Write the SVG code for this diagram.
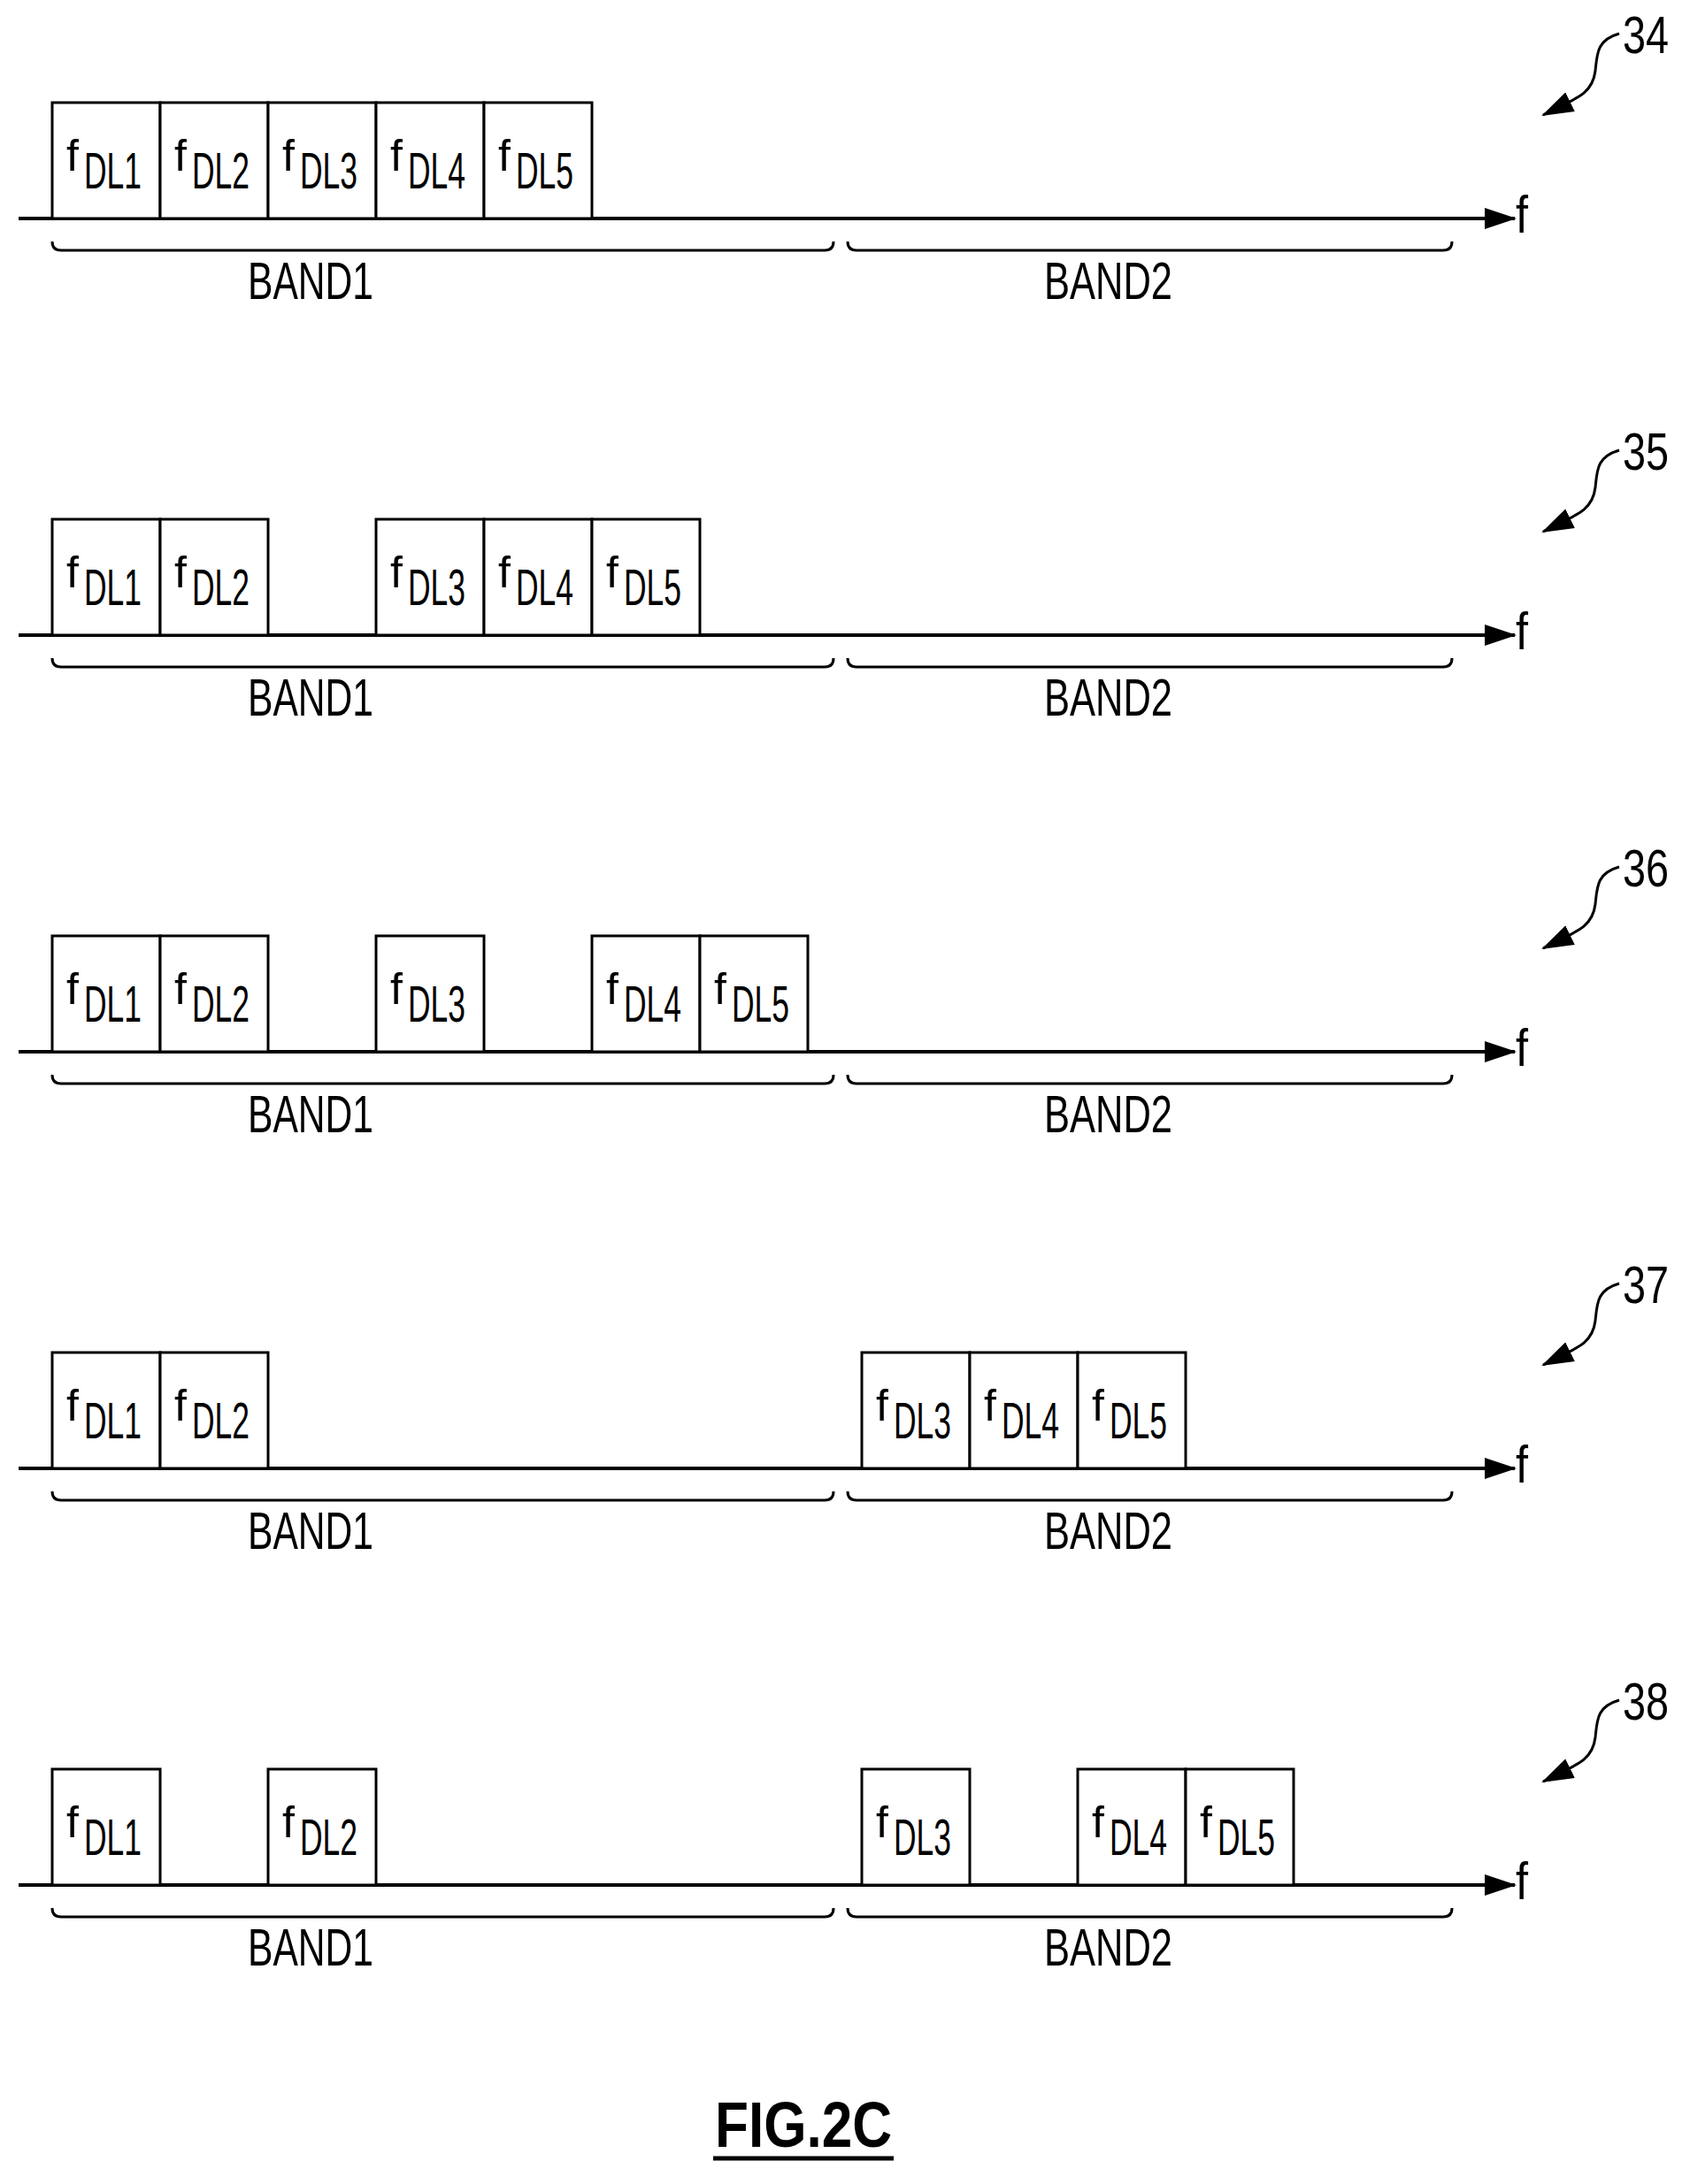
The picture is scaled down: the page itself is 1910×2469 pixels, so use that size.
<svg xmlns="http://www.w3.org/2000/svg" width="1910" height="2469" viewBox="0 0 1910 2469">
<style>
.b{fill:#fff;stroke:#000;stroke-width:3}
.ax{stroke:#000;stroke-width:4;fill:none}
.br{stroke:#000;stroke-width:3;fill:none}
.t{font-family:"Liberation Sans",Arial,sans-serif;fill:#000}
.f{font-size:50px}
.s{font-size:58px}
.bd{font-size:60px}
</style>
<defs>
<marker id="ah" markerWidth="12" markerHeight="8" refX="11" refY="4" orient="auto" markerUnits="userSpaceOnUse" viewBox="0 0 12 8"><path d="M0,0 L12,4 L0,8 Z" fill="#000"/></marker>
<marker id="ah2" markerWidth="36" markerHeight="24" refX="34" refY="12" orient="auto" markerUnits="userSpaceOnUse" viewBox="0 0 36 24"><path d="M0,0 L36,12 L0,24 Z" fill="#000"/></marker>
</defs>
<g id="connectors">
<path class="ax" d="M21,247 H1712" marker-end="url(#ah2)"/>
<path class="ax" d="M21,718 H1712" marker-end="url(#ah2)"/>
<path class="ax" d="M21,1189 H1712" marker-end="url(#ah2)"/>
<path class="ax" d="M21,1660 H1712" marker-end="url(#ah2)"/>
<path class="ax" d="M21,2131 H1712" marker-end="url(#ah2)"/>
<path class="br" d="M59,273 q0,10 10,10 H932 q10,0 10,-10 M958,273 q0,10 10,10 H1631 q10,0 10,-10"/>
<path class="br" d="M59,744 q0,10 10,10 H932 q10,0 10,-10 M958,744 q0,10 10,10 H1631 q10,0 10,-10"/>
<path class="br" d="M59,1215 q0,10 10,10 H932 q10,0 10,-10 M958,1215 q0,10 10,10 H1631 q10,0 10,-10"/>
<path class="br" d="M59,1686 q0,10 10,10 H932 q10,0 10,-10 M958,1686 q0,10 10,10 H1631 q10,0 10,-10"/>
<path class="br" d="M59,2157 q0,10 10,10 H932 q10,0 10,-10 M958,2157 q0,10 10,10 H1631 q10,0 10,-10"/>
<path class="br" d="M1830,38 C1805,45 1805,60 1803,80 C1800,105 1785,110 1744,130" marker-end="url(#ah2)"/>
<path class="br" d="M1830,509 C1805,516 1805,531 1803,551 C1800,576 1785,581 1744,601" marker-end="url(#ah2)"/>
<path class="br" d="M1830,980 C1805,987 1805,1002 1803,1022 C1800,1047 1785,1052 1744,1072" marker-end="url(#ah2)"/>
<path class="br" d="M1830,1451 C1805,1458 1805,1473 1803,1493 C1800,1518 1785,1523 1744,1543" marker-end="url(#ah2)"/>
<path class="br" d="M1830,1922 C1805,1929 1805,1944 1803,1964 C1800,1989 1785,1994 1744,2014" marker-end="url(#ah2)"/>
</g>
<g id="labels" class="t">
<g class="bd">
<text x="280" y="338" textLength="142" lengthAdjust="spacingAndGlyphs">BAND1</text>
<text x="1180" y="338" textLength="145" lengthAdjust="spacingAndGlyphs">BAND2</text>
<text x="280" y="809" textLength="142" lengthAdjust="spacingAndGlyphs">BAND1</text>
<text x="1180" y="809" textLength="145" lengthAdjust="spacingAndGlyphs">BAND2</text>
<text x="280" y="1280" textLength="142" lengthAdjust="spacingAndGlyphs">BAND1</text>
<text x="1180" y="1280" textLength="145" lengthAdjust="spacingAndGlyphs">BAND2</text>
<text x="280" y="1751" textLength="142" lengthAdjust="spacingAndGlyphs">BAND1</text>
<text x="1180" y="1751" textLength="145" lengthAdjust="spacingAndGlyphs">BAND2</text>
<text x="280" y="2222" textLength="142" lengthAdjust="spacingAndGlyphs">BAND1</text>
<text x="1180" y="2222" textLength="145" lengthAdjust="spacingAndGlyphs">BAND2</text>
<text x="1713" y="263" textLength="14" lengthAdjust="spacingAndGlyphs">f</text>
<text x="1713" y="734" textLength="14" lengthAdjust="spacingAndGlyphs">f</text>
<text x="1713" y="1205" textLength="14" lengthAdjust="spacingAndGlyphs">f</text>
<text x="1713" y="1676" textLength="14" lengthAdjust="spacingAndGlyphs">f</text>
<text x="1713" y="2147" textLength="14" lengthAdjust="spacingAndGlyphs">f</text>
<text x="1834" y="60" textLength="52" lengthAdjust="spacingAndGlyphs">34</text>
<text x="1834" y="531" textLength="52" lengthAdjust="spacingAndGlyphs">35</text>
<text x="1834" y="1002" textLength="52" lengthAdjust="spacingAndGlyphs">36</text>
<text x="1834" y="1473" textLength="52" lengthAdjust="spacingAndGlyphs">37</text>
<text x="1834" y="1944" textLength="52" lengthAdjust="spacingAndGlyphs">38</text>
</g>
<text x="808" y="2427" font-size="72" font-weight="bold" textLength="200" lengthAdjust="spacingAndGlyphs">FIG.2C</text>
<line x1="806" y1="2440" x2="1010" y2="2440" stroke="#000" stroke-width="5"/>
</g>
<g id="row34">
<g id="r34b1"><rect class="b" x="59" y="116" width="122" height="131"/><text class="t f" x="75" y="193">f</text><text class="t s" x="95" y="213" textLength="65" lengthAdjust="spacingAndGlyphs">DL1</text></g>
<g id="r34b2"><rect class="b" x="181" y="116" width="122" height="131"/><text class="t f" x="197" y="193">f</text><text class="t s" x="217" y="213" textLength="65" lengthAdjust="spacingAndGlyphs">DL2</text></g>
<g id="r34b3"><rect class="b" x="303" y="116" width="122" height="131"/><text class="t f" x="319" y="193">f</text><text class="t s" x="339" y="213" textLength="65" lengthAdjust="spacingAndGlyphs">DL3</text></g>
<g id="r34b4"><rect class="b" x="425" y="116" width="122" height="131"/><text class="t f" x="441" y="193">f</text><text class="t s" x="461" y="213" textLength="65" lengthAdjust="spacingAndGlyphs">DL4</text></g>
<g id="r34b5"><rect class="b" x="547" y="116" width="122" height="131"/><text class="t f" x="563" y="193">f</text><text class="t s" x="583" y="213" textLength="65" lengthAdjust="spacingAndGlyphs">DL5</text></g>
</g>
<g id="row35">
<g id="r35b1"><rect class="b" x="59" y="587" width="122" height="131"/><text class="t f" x="75" y="664">f</text><text class="t s" x="95" y="684" textLength="65" lengthAdjust="spacingAndGlyphs">DL1</text></g>
<g id="r35b2"><rect class="b" x="181" y="587" width="122" height="131"/><text class="t f" x="197" y="664">f</text><text class="t s" x="217" y="684" textLength="65" lengthAdjust="spacingAndGlyphs">DL2</text></g>
<g id="r35b3"><rect class="b" x="425" y="587" width="122" height="131"/><text class="t f" x="441" y="664">f</text><text class="t s" x="461" y="684" textLength="65" lengthAdjust="spacingAndGlyphs">DL3</text></g>
<g id="r35b4"><rect class="b" x="547" y="587" width="122" height="131"/><text class="t f" x="563" y="664">f</text><text class="t s" x="583" y="684" textLength="65" lengthAdjust="spacingAndGlyphs">DL4</text></g>
<g id="r35b5"><rect class="b" x="669" y="587" width="122" height="131"/><text class="t f" x="685" y="664">f</text><text class="t s" x="705" y="684" textLength="65" lengthAdjust="spacingAndGlyphs">DL5</text></g>
</g>
<g id="row36">
<g id="r36b1"><rect class="b" x="59" y="1058" width="122" height="131"/><text class="t f" x="75" y="1135">f</text><text class="t s" x="95" y="1155" textLength="65" lengthAdjust="spacingAndGlyphs">DL1</text></g>
<g id="r36b2"><rect class="b" x="181" y="1058" width="122" height="131"/><text class="t f" x="197" y="1135">f</text><text class="t s" x="217" y="1155" textLength="65" lengthAdjust="spacingAndGlyphs">DL2</text></g>
<g id="r36b3"><rect class="b" x="425" y="1058" width="122" height="131"/><text class="t f" x="441" y="1135">f</text><text class="t s" x="461" y="1155" textLength="65" lengthAdjust="spacingAndGlyphs">DL3</text></g>
<g id="r36b4"><rect class="b" x="669" y="1058" width="122" height="131"/><text class="t f" x="685" y="1135">f</text><text class="t s" x="705" y="1155" textLength="65" lengthAdjust="spacingAndGlyphs">DL4</text></g>
<g id="r36b5"><rect class="b" x="791" y="1058" width="122" height="131"/><text class="t f" x="807" y="1135">f</text><text class="t s" x="827" y="1155" textLength="65" lengthAdjust="spacingAndGlyphs">DL5</text></g>
</g>
<g id="row37">
<g id="r37b1"><rect class="b" x="59" y="1529" width="122" height="131"/><text class="t f" x="75" y="1606">f</text><text class="t s" x="95" y="1626" textLength="65" lengthAdjust="spacingAndGlyphs">DL1</text></g>
<g id="r37b2"><rect class="b" x="181" y="1529" width="122" height="131"/><text class="t f" x="197" y="1606">f</text><text class="t s" x="217" y="1626" textLength="65" lengthAdjust="spacingAndGlyphs">DL2</text></g>
<g id="r37b3"><rect class="b" x="974" y="1529" width="122" height="131"/><text class="t f" x="990" y="1606">f</text><text class="t s" x="1010" y="1626" textLength="65" lengthAdjust="spacingAndGlyphs">DL3</text></g>
<g id="r37b4"><rect class="b" x="1096" y="1529" width="122" height="131"/><text class="t f" x="1112" y="1606">f</text><text class="t s" x="1132" y="1626" textLength="65" lengthAdjust="spacingAndGlyphs">DL4</text></g>
<g id="r37b5"><rect class="b" x="1218" y="1529" width="122" height="131"/><text class="t f" x="1234" y="1606">f</text><text class="t s" x="1254" y="1626" textLength="65" lengthAdjust="spacingAndGlyphs">DL5</text></g>
</g>
<g id="row38">
<g id="r38b1"><rect class="b" x="59" y="2000" width="122" height="131"/><text class="t f" x="75" y="2077">f</text><text class="t s" x="95" y="2097" textLength="65" lengthAdjust="spacingAndGlyphs">DL1</text></g>
<g id="r38b2"><rect class="b" x="303" y="2000" width="122" height="131"/><text class="t f" x="319" y="2077">f</text><text class="t s" x="339" y="2097" textLength="65" lengthAdjust="spacingAndGlyphs">DL2</text></g>
<g id="r38b3"><rect class="b" x="974" y="2000" width="122" height="131"/><text class="t f" x="990" y="2077">f</text><text class="t s" x="1010" y="2097" textLength="65" lengthAdjust="spacingAndGlyphs">DL3</text></g>
<g id="r38b4"><rect class="b" x="1218" y="2000" width="122" height="131"/><text class="t f" x="1234" y="2077">f</text><text class="t s" x="1254" y="2097" textLength="65" lengthAdjust="spacingAndGlyphs">DL4</text></g>
<g id="r38b5"><rect class="b" x="1340" y="2000" width="122" height="131"/><text class="t f" x="1356" y="2077">f</text><text class="t s" x="1376" y="2097" textLength="65" lengthAdjust="spacingAndGlyphs">DL5</text></g>
</g>
</svg>
